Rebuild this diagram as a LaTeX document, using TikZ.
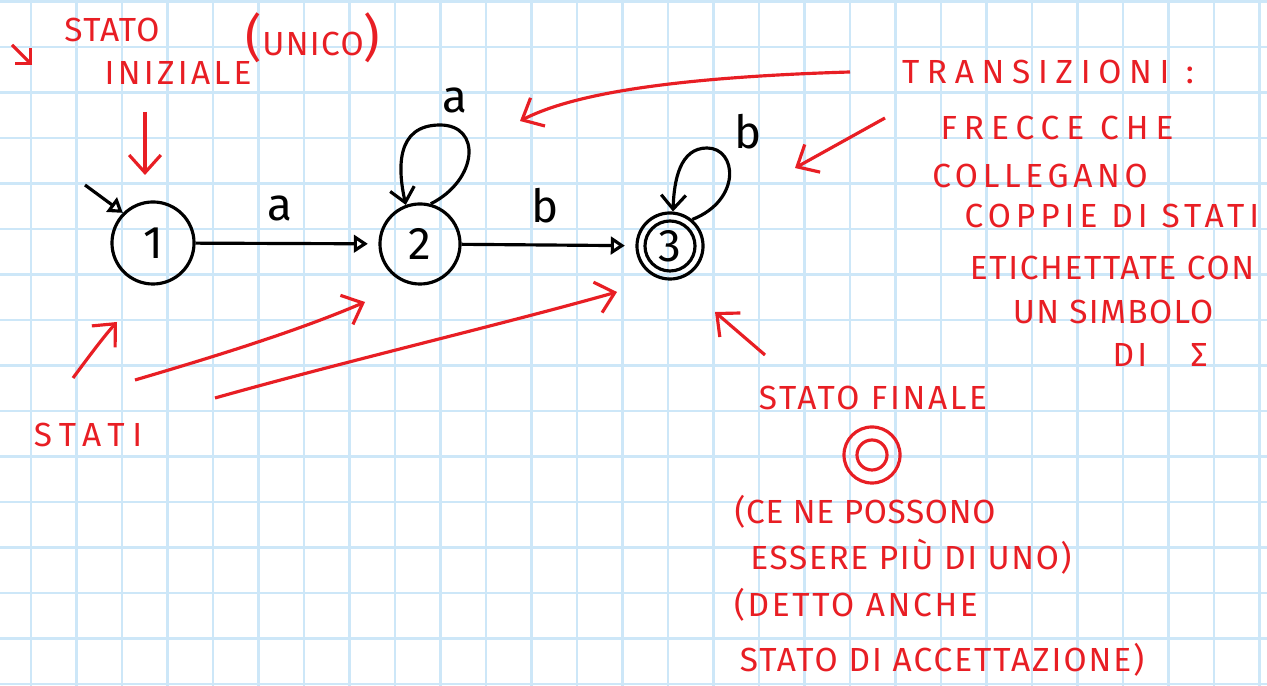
\documentclass[tikz,border=0pt]{standalone}
\usepackage{fontspec}
\setmainfont{Fira Sans}
\usepackage{tikz}
\usetikzlibrary{arrows.meta,positioning}
\definecolor{gridblue}{RGB}{205,231,248}
\definecolor{inkred}{RGB}{232,30,36}

\begin{document}
\begin{tikzpicture}[x=0.01cm,y=-0.01cm,
    state/.style={draw,circle,line width=0.9pt,minimum size=0.8cm,inner sep=0pt,font=\fontsize{13}{15}\selectfont},
    trans/.style={-{Triangle[open,length=4pt,width=5pt]},line width=0.9pt},
    loopline/.style={-{Straight Barb[length=4pt,width=7pt]},line width=0.9pt},
    note/.style={inkred,line width=0.9pt,-{Straight Barb[length=5pt,width=9pt]}},
    redtext/.style={inkred,inner sep=0pt,font=\fontsize{9.5}{11}\selectfont\addfontfeature{LetterSpace=#1}},
    redtext/.default=0,
    lbl/.style={inner sep=0pt,font=\fontsize{13}{15}\selectfont}]
        \useasboundingbox (0,0) rectangle (1267,686);
        \fill[white] (0,0) rectangle (1267,686);

        % squared paper
        \foreach \i in {0,...,27} { \draw[gridblue,line width=0.6pt] ({31+45.5*\i},0) -- ({31+45.5*\i},686); }
        \foreach \j in {0,...,15} { \draw[gridblue,line width=0.6pt] (0,{1.5+45.5*\j}) -- (1267,{1.5+45.5*\j}); }

        % states
        \node[state,minimum size=0.82cm] (s1) at (153,243) {1};
        \node[state] (s2) at (420,244) {2};
        \node[state,minimum size=0.66cm] (s3) at (670,246) {3};
        \draw[line width=0.9pt] (s3.center) circle (0.25cm);

        % initial arrow
        \coordinate (init) at (85,185);
        \draw[trans] (init) -- (s1.135);

        % 1 to 2
        \draw[trans,shorten >=3pt] (s1) -- (s2);
        \node[lbl] (la) at (280,208) {a};

        % 2 to 3
        \draw[trans,shorten >=3pt] (s2) -- (s3);
        \node[lbl] (lb) at (545,206) {b};

        % loop on 2
        \draw[loopline] (s2.75) .. controls (478,180) and (482,125) .. (440,125)
            .. controls (395,125) and (398,170) .. (s2.110);
        \node[lbl] (laa) at (455,100) {a};

        % loop on 3
        \draw[loopline] (s3.50) .. controls (742,200) and (737,148) .. (707,148)
            .. controls (680,148) and (674,180) .. (s3.85);
        \node[lbl] (lbb) at (748,132) {b};

        % initial state note
        \node[redtext=4] (ini1) at (112,30) {STATO};
        \node[redtext=10] (ini2) at (178,73) {INIZIALE};
        \node[redtext=4] (ini3) at (313,38) {{\Large(}UNICO{\Large)}};
        \coordinate (tick1) at (12,45);
        \coordinate (tick2) at (32,65);
        \draw[note,-{Straight Barb[length=3pt,width=6pt]}] (tick1) -- (tick2);
        \coordinate (down1) at (145,112);
        \coordinate (down2) at (145,175);
        \draw[note] (down1) -- (down2);

        % transitions note
        \node[redtext=23] (tr1) at (1048,72) {TRANSIZIONI :};
        \node[redtext=21] (tr2) at (1057,128) {FRECCE CHE};
        \node[redtext=14] (tr3) at (1040,176) {COLLEGANO};
        \node[redtext=15] (tr4) at (1112,216) {COPPIE DI STATI};
        \node[redtext=5] (tr5) at (1112,268) {ETICHETTATE CON};
        \node[redtext=4] (tr6) at (1113,312) {UN SIMBOLO};
        \node[redtext=10] (tr7) at (1160,355) {DI\hspace{1.3em}Σ};
        \coordinate (tra) at (850,72);
        \coordinate (trb) at (520,121);
        \draw[note] (tra) .. controls (650,78) and (565,98) .. (trb);
        \coordinate (trc) at (885,118);
        \coordinate (trd) at (795,168);
        \draw[note] (trc) -- (trd);

        % states note
        \node[redtext=23] (st) at (88,435) {STATI};
        \coordinate (st1a) at (73,378);
        \coordinate (st1b) at (117,322);
        \draw[note] (st1a) .. controls (90,355) and (105,335) .. (st1b);
        \coordinate (st2a) at (135,380);
        \coordinate (st2b) at (365,302);
        \draw[note] (st2a) .. controls (220,355) and (300,330) .. (st2b);
        \coordinate (st3a) at (215,398);
        \coordinate (st3b) at (617,292);
        \draw[note] (st3a) .. controls (350,360) and (500,325) .. (st3b);

        % final state note
        \node[redtext=8] (fi1) at (873,398) {STATO FINALE};
        \node[draw,circle,inkred,line width=0.9pt,minimum size=0.56cm,inner sep=0pt] (fin) at (872,455) {};
        \draw[inkred,line width=0.9pt] (fin.center) circle (0.15cm);
        \node[redtext=2] (fi2) at (865,512) {(CE NE POSSONO};
        \node[redtext=5] (fi3) at (911,557) {ESSERE PIÙ DI UNO)};
        \node[redtext=8] (fi4) at (856,605) {(DETTO ANCHE};
        \node[redtext=6] (fi5) at (942,660) {STATO DI ACCETTAZIONE)};
        \coordinate (fia) at (765,355);
        \coordinate (fib) at (715,312);
        \draw[note] (fia) -- (fib);

      \end{tikzpicture}
\end{document}
